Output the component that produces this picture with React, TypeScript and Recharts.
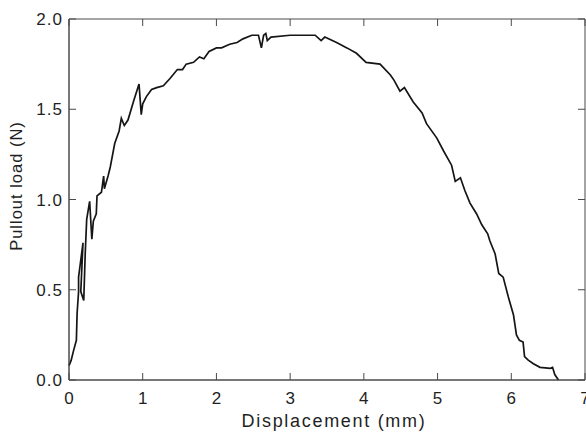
import { Label, Line, LineChart, ReferenceArea, XAxis, YAxis } from 'recharts'

const displacement = [
  0.0, 0.03, 0.06, 0.1, 0.11, 0.13, 0.13, 0.19, 0.16, 0.2, 0.22, 0.24, 0.28, 0.31, 0.33, 0.37, 0.38,
  0.44, 0.47, 0.48, 0.53, 0.56, 0.62, 0.68, 0.71, 0.75, 0.8, 0.88, 0.95, 0.98, 1.0, 1.05, 1.12, 1.19,
  1.28, 1.37, 1.47, 1.54, 1.59, 1.69, 1.77, 1.83, 1.9, 2.0, 2.07, 2.18, 2.28, 2.36, 2.48, 2.57, 2.61,
  2.64, 2.67, 2.69, 2.74, 3.0, 3.34, 3.42, 3.47, 3.63, 3.77, 3.9, 4.03, 4.22, 4.36, 4.41, 4.49, 4.55,
  4.67, 4.79, 4.85, 4.99, 5.08, 5.19, 5.24, 5.31, 5.37, 5.44, 5.53, 5.6, 5.68, 5.71, 5.78, 5.83, 5.89,
  5.96, 6.03, 6.07, 6.11, 6.16, 6.18, 6.23, 6.3, 6.39, 6.53, 6.56, 6.59, 6.64,
]

const pulloutLoad = [
  0.08, 0.11, 0.16, 0.22, 0.37, 0.49, 0.57, 0.76, 0.49, 0.44, 0.7, 0.89, 0.99, 0.78, 0.88, 0.92, 1.02,
  1.04, 1.13, 1.06, 1.13, 1.18, 1.31, 1.38, 1.45, 1.41, 1.44, 1.55, 1.64, 1.47, 1.53, 1.57, 1.61, 1.62,
  1.63, 1.67, 1.72, 1.72, 1.75, 1.76, 1.79, 1.78, 1.82, 1.84, 1.84, 1.86, 1.87, 1.89, 1.91, 1.91, 1.84,
  1.91, 1.92, 1.88, 1.9, 1.91, 1.91, 1.88, 1.9, 1.87, 1.84, 1.81, 1.76, 1.75, 1.69, 1.66, 1.6, 1.62,
  1.54, 1.48, 1.42, 1.34, 1.27, 1.19, 1.1, 1.12, 1.05, 0.98, 0.92, 0.86, 0.81, 0.77, 0.7, 0.59, 0.57,
  0.46, 0.36, 0.25, 0.22, 0.21, 0.13, 0.11, 0.09, 0.07, 0.065, 0.07, 0.03, 0.0,
]

const xTicks = [0, 1, 2, 3, 4, 5, 6, 7]
const yTicks = [0, 0.5, 1, 1.5, 2]

const data = displacement.map((x, i) => ({ x, load: pulloutLoad[i] }))

const WIDTH = 586
const HEIGHT = 433
const MARGIN = { top: 19, right: 1, bottom: 23, left: 0 }
const Y_AXIS_WIDTH = 69
const X_AXIS_HEIGHT = 30
const PLOT_LEFT = MARGIN.left + Y_AXIS_WIDTH
const PLOT_RIGHT = WIDTH - MARGIN.right
const PLOT_TOP = MARGIN.top
const PLOT_BOTTOM = HEIGHT - MARGIN.bottom - X_AXIS_HEIGHT
const TICK = 7

const FONT = '"Liberation Sans", Arial, Helvetica, sans-serif'
const TEXT = '#1f1f1f'
const FRAME = '#4a4a4a'

// ticks point inward; each tick also draws its mirror on the opposite side of the box
function BottomTick({ x, payload }: any) {
  return (
    <g>
      <line x1={x} x2={x} y1={PLOT_BOTTOM} y2={PLOT_BOTTOM - TICK} stroke={FRAME} />
      <line x1={x} x2={x} y1={PLOT_TOP} y2={PLOT_TOP + TICK} stroke={FRAME} />
      <text
        x={x}
        y={PLOT_BOTTOM + 23.5}
        textAnchor="middle"
        fontSize={17}
        fontFamily={FONT}
        fill={TEXT}
      >
        {payload.value}
      </text>
    </g>
  )
}

function LeftTick({ y, payload }: any) {
  return (
    <g>
      <line x1={PLOT_LEFT} x2={PLOT_LEFT + TICK} y1={y} y2={y} stroke={FRAME} />
      <line x1={PLOT_RIGHT} x2={PLOT_RIGHT - TICK} y1={y} y2={y} stroke={FRAME} />
      <text
        x={PLOT_LEFT - 6}
        y={y + 6}
        textAnchor="end"
        fontSize={17}
        letterSpacing={1}
        fontFamily={FONT}
        fill={TEXT}
      >
        {payload.value.toFixed(1)}
      </text>
    </g>
  )
}

export default function App() {
  return (
    <div style={{ position: 'absolute', left: 0, top: 0, width: WIDTH, height: HEIGHT, background: '#fff' }}>
      <LineChart width={WIDTH} height={HEIGHT} data={data} margin={MARGIN}>
        <XAxis
          type="number"
          dataKey="x"
          domain={[0, 7]}
          ticks={xTicks}
          height={X_AXIS_HEIGHT}
          stroke={FRAME}
          tickLine={false}
          tick={<BottomTick />}
          interval={0}
        >
          <Label
            content={() => (
              <text
                x={334}
                y={427}
                textAnchor="middle"
                fontSize={18}
                letterSpacing={1.7}
                fontFamily={FONT}
                fill={TEXT}
              >
                Displacement (mm)
              </text>
            )}
          />
        </XAxis>
        <YAxis
          domain={[0, 2]}
          ticks={yTicks}
          width={Y_AXIS_WIDTH}
          stroke={FRAME}
          tickLine={false}
          tick={<LeftTick />}
          interval={0}
        >
          <Label
            content={() => (
              <text
                x={22}
                y={186}
                transform="rotate(-90, 22, 186)"
                textAnchor="middle"
                fontSize={16.5}
                letterSpacing={1}
                fontFamily={FONT}
                fill={TEXT}
              >
                Pullout load (N)
              </text>
            )}
          />
        </YAxis>
        <ReferenceArea x1={0} x2={7} y1={0} y2={2} fill="none" stroke={FRAME} strokeWidth={1} />
        <Line
          dataKey="load"
          type="linear"
          stroke="#151515"
          strokeWidth={1.7}
          dot={false}
          isAnimationActive={false}
        />
      </LineChart>
    </div>
  )
}
